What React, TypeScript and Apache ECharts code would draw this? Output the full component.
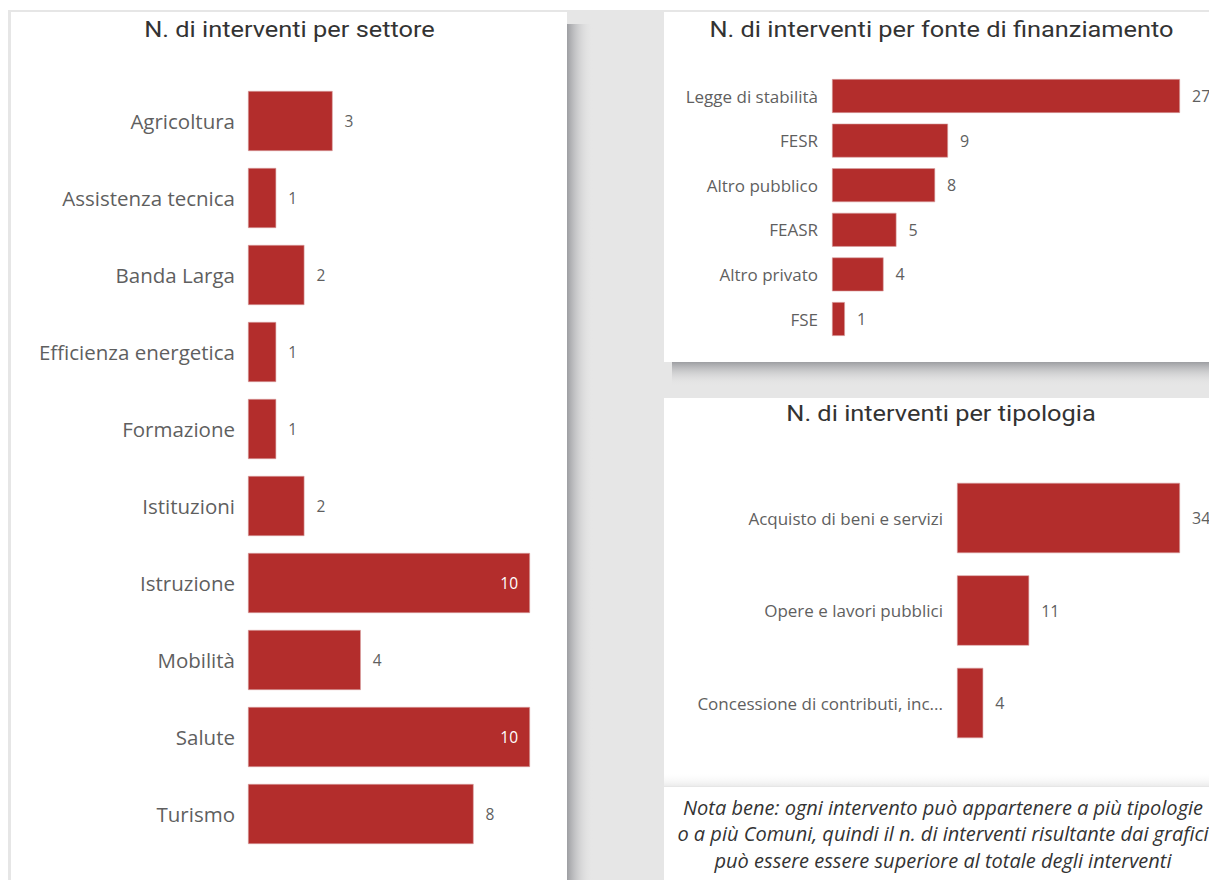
import React, { useEffect, useRef } from "react";
import * as echarts from "echarts";

const sectorCategories = [
  "Agricoltura",
  "Assistenza tecnica",
  "Banda Larga",
  "Efficienza energetica",
  "Formazione",
  "Istituzioni",
  "Istruzione",
  "Mobilità",
  "Salute",
  "Turismo",
];
const sectorValues = [3, 1, 2, 1, 1, 2, 10, 4, 10, 8];

const fundingCategories = ["Legge di stabilità", "FESR", "Altro pubblico", "FEASR", "Altro privato", "FSE"];
const fundingValues = [27, 9, 8, 5, 4, 1];

const typeCategories = ["Acquisto di beni e servizi", "Opere e lavori pubblici", "Concessione di contributi, inc..."];
const typeValues = [34, 11, 4];

const titles = [
  "N. di interventi per settore",
  "N. di interventi per fonte di finanziamento",
  "N. di interventi per tipologia",
];
const noteLines = [
  "Nota bene: ogni intervento può appartenere a più tipologie",
  "o a più Comuni, quindi il n. di interventi risultante dai grafici",
  "può essere essere superiore al totale degli interventi",
];

const BAR = "#B32D2C";
const LABEL = "#5f5f5f";
const TITLE_FONT = "Roboto, 'DejaVu Sans', sans-serif";
const BODY_FONT = "'Open Sans', 'Noto Sans', sans-serif";

export default function App() {
  const ref = useRef<HTMLDivElement>(null);
  useEffect(() => {
    if (!ref.current) return;
    const chart = echarts.init(ref.current, null, { renderer: "svg" });
    const maxSector = Math.max(...sectorValues);

    const mkY = (gridIndex: number, data: string[], fontSize: number, margin: number) => ({
      type: "category",
      gridIndex,
      data,
      inverse: true,
      z: 10,
      axisLine: { show: false },
      axisTick: { show: false },
      splitLine: { show: false },
      axisLabel: { color: LABEL, fontSize, fontFamily: BODY_FONT, margin },
    });
    const mkX = (gridIndex: number, max: number) => ({
      type: "value",
      gridIndex,
      min: 0,
      max,
      show: false,
      splitLine: { show: false },
    });
    const vLabel = (fontSize: number) => ({
      show: true,
      position: "right",
      distance: 12,
      color: LABEL,
      fontSize,
      fontFamily: BODY_FONT,
    });

    const grayRect = (x: number, y: number, w: number, h: number, fill: any, z = 0) => ({
      type: "rect",
      silent: true,
      z,
      shape: { x, y, width: w, height: h },
      style: { fill },
    });
    const grad = (x2: number, y2: number, c0: string, c1: string) =>
      new echarts.graphic.LinearGradient(0, 0, x2, y2, [
        { offset: 0, color: c0 },
        { offset: 1, color: c1 },
      ]);
    const titleText = (text: string, x: number, y: number) => ({
      type: "text",
      silent: true,
      z: 10,
      x,
      y,
      scaleX: 1.18,
      style: {
        text,
        fill: "#333333",
        font: `21.5px ${TITLE_FONT}`,
        align: "center",
        verticalAlign: "middle",
      },
    });

    chart.setOption({
      animation: false,
      backgroundColor: "#ffffff",
      graphic: [
        grayRect(8, 10, 1201, 870, "#e6e6e6", 0),
        grayRect(567, 24, 26, 856, grad(1, 0, "#9d9ea2", "rgba(230,230,230,0)"), 1),
        grayRect(672, 362, 537, 24, grad(0, 1, "#9d9ea2", "rgba(230,230,230,0)"), 1),
        grayRect(11, 12, 556, 868, "#ffffff", 2),
        grayRect(664, 12, 545, 350, "#ffffff", 2),
        grayRect(664, 398, 545, 388, "#ffffff", 2),
        grayRect(664, 772, 545, 14, grad(0, 1, "rgba(255,255,255,0)", "#ececec"), 3),
        grayRect(664, 787, 545, 93, "#ffffff", 2),
        titleText(titles[0], 289.5, 29.5),
        titleText(titles[1], 941.5, 29.5),
        titleText(titles[2], 941, 413.5),
        {
          type: "text",
          silent: true,
          z: 10,
          x: 943,
          y: 794,
          style: {
            text: noteLines.join("\n"),
            fill: "#333333",
            font: `italic 20px ${BODY_FONT}`,
            align: "center",
            verticalAlign: "top",
            lineHeight: 26.5,
          },
        },
      ],
      grid: [
        { left: 248, width: 282, top: 82.5, height: 770, containLabel: false, z: 5 },
        { left: 832, width: 348, top: 73.7, height: 267.6, containLabel: false, z: 5 },
        { left: 957, width: 223, top: 471.75, height: 277.5, containLabel: false, z: 5 },
      ],
      xAxis: [mkX(0, maxSector), mkX(1, Math.max(...fundingValues)), mkX(2, Math.max(...typeValues))],
      yAxis: [
        mkY(0, sectorCategories, 20.5, 13),
        mkY(1, fundingCategories, 17, 14),
        mkY(2, typeCategories, 17, 14),
      ],
      series: [
        {
          type: "bar",
          xAxisIndex: 0,
          yAxisIndex: 0,
          z: 5,
          barCategoryGap: "22%",
          itemStyle: { color: BAR, borderColor: "#d9a3a3", borderWidth: 0.6 },
          label: vLabel(15.5),
          data: sectorValues.map((v) =>
            v === maxSector
              ? { value: v, label: { position: "insideRight", color: "#ffffff", distance: 12 } }
              : v
          ),
        },
        {
          type: "bar",
          xAxisIndex: 1,
          yAxisIndex: 1,
          z: 5,
          barCategoryGap: "24%",
          itemStyle: { color: BAR, borderColor: "#d9a3a3", borderWidth: 0.6 },
          label: vLabel(16),
          data: fundingValues,
        },
        {
          type: "bar",
          xAxisIndex: 2,
          yAxisIndex: 2,
          z: 5,
          barCategoryGap: "24%",
          itemStyle: { color: BAR, borderColor: "#d9a3a3", borderWidth: 0.6 },
          label: vLabel(16),
          data: typeValues,
        },
      ],
    });
    return () => chart.dispose();
  }, []);
  return (
    <div
      ref={ref}
      style={{ position: "fixed", left: 0, top: 0, width: 1209, height: 880 }}
    />
  );
}
